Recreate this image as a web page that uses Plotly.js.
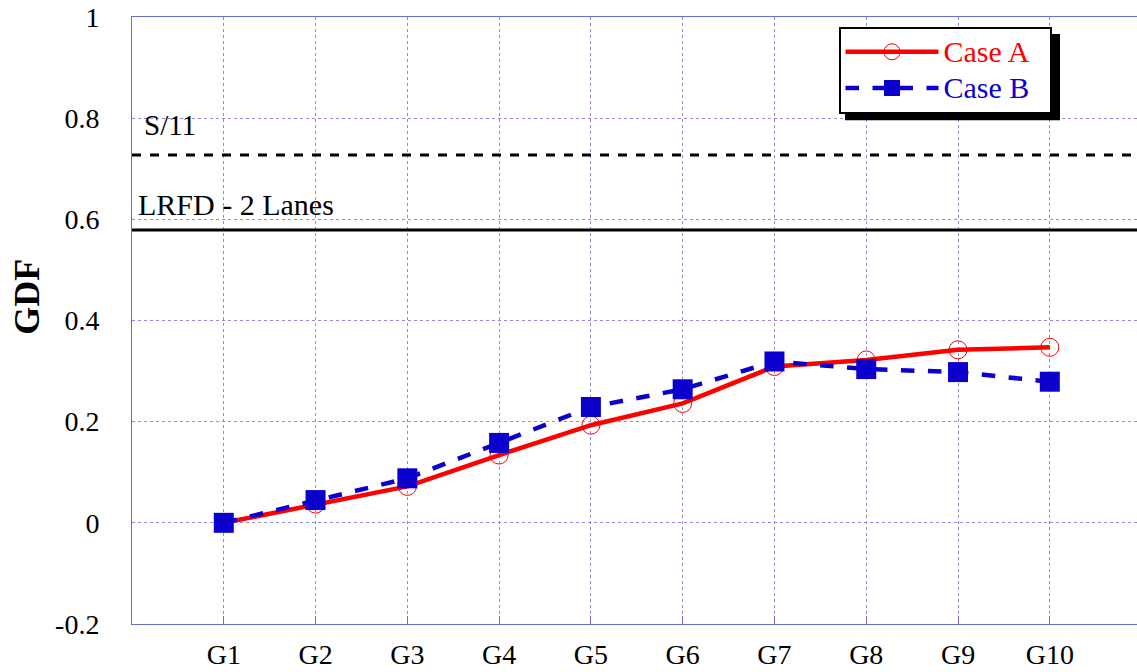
<!DOCTYPE html>
<html>
<head>
<meta charset="utf-8">
<script src="https://cdn.plot.ly/plotly-3.0.1.min.js"></script>
<style>html,body{margin:0;padding:0;background:#fff;}#chart{width:1137px;height:672px;}</style>
</head>
<body>
<div id="chart"></div>
<script>
const girders = ["G1","G2","G3","G4","G5","G6","G7","G8","G9","G10"];
const caseA = [0.000, 0.037, 0.072, 0.134, 0.193, 0.236, 0.309, 0.322, 0.342, 0.347];
const caseB = [0.000, 0.045, 0.088, 0.158, 0.229, 0.264, 0.319, 0.304, 0.298, 0.279];
const s11Value = 0.727;
const lrfdValue = 0.579;
const yTickVals = [-0.2, 0, 0.2, 0.4, 0.6, 0.8, 1];
const yTickText = ["-0.2", "0", "0.2", "0.4", "0.6", "0.8", "1"];

const FONT = "'Liberation Serif', 'Times New Roman', serif";
const GRID = "#8c8ce6";
const BLUE = "#0b00cc";
const RED = "#ff0000";

const traces = [
  {x: girders, y: caseA, type: "scatter", mode: "lines+markers",
   name: '<span style="color:#ff0000;font-size:30px">Case A&nbsp;&nbsp;</span>',
   line: {color: RED, width: 4.5},
   marker: {symbol: "circle-open", size: 18, color: RED, line: {width: 1, color: RED}}},
  {x: girders, y: caseB, type: "scatter", mode: "lines+markers",
   name: '<span style="color:#0b00cc;font-size:30px">Case B&nbsp;&nbsp;</span>',
   line: {color: BLUE, width: 4.5, dash: "dash"},
   marker: {symbol: "square", size: 20, color: BLUE}}
];

const layout = {
  width: 1137, height: 672,
  margin: {l: 132, r: 0, t: 17, b: 48},
  paper_bgcolor: "#fff", plot_bgcolor: "#fff",
  font: {family: FONT, size: 28, color: "#000"},
  showlegend: true,
  legend: {x: 0.703, y: 0.984, xanchor: "left", yanchor: "top",
           bgcolor: "#fff", bordercolor: "#000", borderwidth: 2,
           font: {family: FONT, size: 25.5}, itemwidth: 93, tracegroupgap: 0},
  xaxis: {type: "category", range: [-1, 9.95],
          showgrid: true, gridcolor: GRID, griddash: "dot", gridwidth: 1,
          showline: true, linecolor: "#6a6ae0", linewidth: 1, mirror: true,
          ticks: "inside", ticklen: 8, tickcolor: "#6a6ae0",
          tickfont: {family: FONT, size: 28}, ticklabelstandoff: 5,
          zeroline: false, fixedrange: true},
  yaxis: {range: [-0.2, 1], tickvals: yTickVals, ticktext: yTickText,
          showgrid: true, gridcolor: GRID, griddash: "dot", gridwidth: 1,
          showline: true, linecolor: "#6a6ae0", linewidth: 1,
          ticks: "", tickfont: {family: FONT, size: 28}, ticklabelstandoff: 26,
          zeroline: false},
  shapes: [
    {type: "line", xref: "paper", yref: "y", x0: 0, x1: 1, y0: s11Value, y1: s11Value,
     line: {color: "#000", width: 3, dash: "dash"}},
    {type: "line", xref: "paper", yref: "y", x0: 0, x1: 1, y0: lrfdValue, y1: lrfdValue,
     line: {color: "#000", width: 3}},
    {type: "rect", xref: "paper", yref: "paper", x0: 0.7095, x1: 0.9234, y0: 0.830, y1: 0.972,
     fillcolor: "#000", line: {width: 0}, layer: "above"}
  ],
  annotations: [
    {text: "<b>GDF</b>", xref: "paper", yref: "paper", x: -0.1045, y: 0.539, xanchor: "center", yanchor: "middle",
     textangle: -90, showarrow: false, font: {family: FONT, size: 36, color: "#000"}},
    {text: "S/11", xref: "paper", yref: "y", x: 0.01, y: 0.786, xanchor: "left", yanchor: "middle",
     showarrow: false, font: {family: FONT, size: 29, color: "#000"}},
    {text: "LRFD - 2 Lanes", xref: "paper", yref: "y", x: 0.004, y: 0.630, xanchor: "left", yanchor: "middle",
     showarrow: false, font: {family: FONT, size: 30, color: "#000"}}
  ]
};

Plotly.newPlot("chart", traces, layout, {displayModeBar: false, staticPlot: true});
</script>
</body>
</html>
